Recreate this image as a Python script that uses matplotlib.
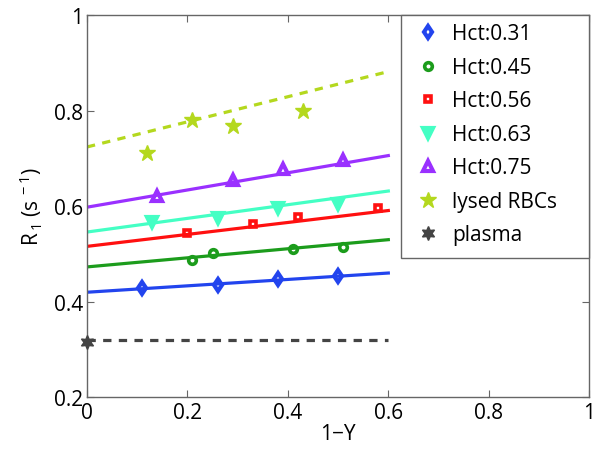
import matplotlib
matplotlib.use('Agg')
import matplotlib.pyplot as plt
from matplotlib.patches import Rectangle
import numpy as np

plt.rcParams['font.family'] = ['Open Sans', 'DejaVu Sans']
plt.rcParams['mathtext.fontset'] = 'custom'
plt.rcParams['mathtext.rm'] = 'Open Sans'
plt.rcParams['mathtext.it'] = 'Open Sans'

# measured points (x = 1-Y, y = R1)
labels = ['Hct:0.31', 'Hct:0.45', 'Hct:0.56', 'Hct:0.63', 'Hct:0.75', 'lysed RBCs', 'plasma']
x_pts = [
    [0.11, 0.26, 0.38, 0.50],
    [0.21, 0.25, 0.41, 0.51],
    [0.20, 0.33, 0.42, 0.58],
    [0.13, 0.26, 0.38, 0.50],
    [0.14, 0.29, 0.39, 0.51],
    [0.12, 0.21, 0.29, 0.43],
    [0.0],
]
y_pts = [
    [0.429, 0.436, 0.447, 0.455],
    [0.487, 0.502, 0.510, 0.515],
    [0.545, 0.562, 0.578, 0.597],
    [0.568, 0.576, 0.596, 0.605],
    [0.621, 0.654, 0.677, 0.696],
    [0.712, 0.780, 0.767, 0.799],
    [0.315],
]

# linear fits (intercept, slope) over 1-Y in [0, 0.6]
fit_x = [0.0, 0.6]
intercepts = [0.420, 0.473, 0.516, 0.546, 0.598, 0.724, 0.320]
slopes = [0.067, 0.095, 0.125, 0.143, 0.180, 0.263, 0.0]

colors = ['#2244ee', '#1c9c1c', '#ff1010', '#44ffc4', '#9a30ff', '#b4d81e', '#444444']
markers = ['d', 'o', 's', 'v', '^', '*', (6, 1, 0)]
msizes = [6.5, 5.5, 4.5, 7, 7, 12, 10]
mews = [3, 2.6, 2.6, 3, 3, 1, 1]
filled = [False, False, False, True, False, True, True]
styles = ['-', '-', '-', '-', '-', (0, (2.6, 2.3)), (0, (2.6, 2.3))]

fig = plt.figure(figsize=(6, 4.6), dpi=100)
ax = fig.add_axes([0.145, 0.134, 0.837, 0.831])

fx = np.array(fit_x)
for i in range(len(labels)):
    ax.plot(fx, intercepts[i] + slopes[i] * fx, color=colors[i], lw=2.3,
            linestyle=styles[i], zorder=2)
for i in range(len(labels)):
    ax.plot(x_pts[i], y_pts[i], linestyle='none', marker=markers[i], ms=msizes[i],
            mfc=colors[i] if filled[i] else 'none', mec=colors[i], mew=mews[i],
            label=labels[i], zorder=3, clip_on=False)

ax.set_xlim(0, 1)
ax.set_ylim(0.2, 1)
ax.set_xticks([0, 0.2, 0.4, 0.6, 0.8, 1])
ax.set_xticklabels(['0', '0.2', '0.4', '0.6', '0.8', '1'])
ax.set_yticks([0.2, 0.4, 0.6, 0.8, 1])
ax.set_yticklabels(['0.2', '0.4', '0.6', '0.8', '1'])
ax.tick_params(direction='in', top=True, right=True, length=5, width=0.8,
               color='#666666', labelsize=15, pad=3)
for s in ax.spines.values():
    s.set_color('#666666')
    s.set_linewidth(1.0)

ax.set_xlabel('1\u2212Y', fontsize=15, labelpad=0)
ax.set_ylabel(r'R$_{\,1}$ (s$^{\,-1}$)', fontsize=15, labelpad=6)

# legend box (MATLAB-style, wider than the entries)
ax.add_patch(Rectangle((0.625, 0.365), 0.375, 0.635, transform=ax.transAxes,
                       facecolor='white', edgecolor='#666666', lw=1.0,
                       zorder=4, clip_on=False))
leg = ax.legend(loc='upper left', bbox_to_anchor=(0.625, 1.0), fontsize=15,
                numpoints=1, handlelength=1.8, handletextpad=0.25,
                labelspacing=0.6, borderpad=0.4, borderaxespad=0.0,
                frameon=False)
leg.set_zorder(5)

fig.savefig('out.png', dpi=100)
